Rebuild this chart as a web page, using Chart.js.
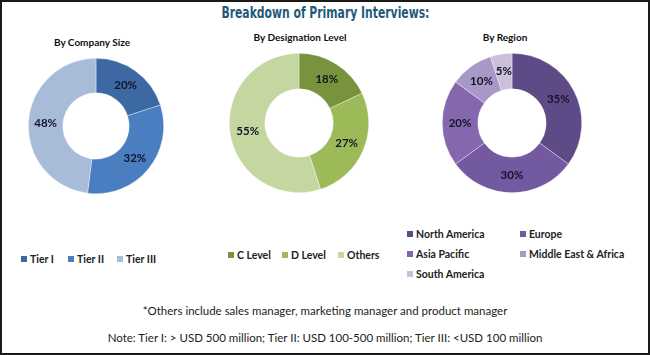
<!DOCTYPE html>
<html>
<head>
<meta charset="utf-8">
<script src="https://cdn.jsdelivr.net/npm/chart.js@4.4.0/dist/chart.umd.min.js"></script>
<style>
  html, body { margin: 0; padding: 0; background: #fff; }
  #frame { position: relative; width: 650px; height: 355px; box-sizing: border-box; border: 2px solid #1a1a1a; overflow: hidden; background: #fff; }
  .abs { position: absolute; white-space: nowrap; }
  #titlewrap { left: 0; width: 646px; top: 1px; text-align: center; }
  #title { display: inline-block; font-family: "Liberation Sans Narrow", "DejaVu Sans Condensed", sans-serif; font-weight: bold; font-size: 16px; color: #1f5a7a; transform-origin: center; }
  .sub { font-family: Lato, "Open Sans", sans-serif; font-weight: bold; font-size: 10px; color: #111; transform: translateX(-50%); }
  .leg { font-family: Lato, "Open Sans", sans-serif; font-weight: bold; font-size: 10.5px; color: #222; line-height: 12px; }
  .leg span.sq { display: inline-block; width: 6px; height: 6px; margin-right: 3px; vertical-align: 1px; }
  .note { left: 0; width: 646px; text-align: center; font-family: Lato, "Open Sans", sans-serif; font-size: 11.5px; color: #222; }
  canvas { position: absolute; }
</style>
</head>
<body>
<div id="frame">
  <div id="titlewrap" class="abs"><span id="title">Breakdown of Primary Interviews:</span></div>
  <div class="abs sub" style="left:90px; top:34px;">By Company Size</div>
  <div class="abs sub" style="left:298px; top:29px;">By Designation Level</div>
  <div class="abs sub" style="left:503px; top:29px;">By Region</div>
  <canvas id="c1" width="136" height="136" style="left:26px; top:56px;"></canvas>
  <canvas id="c2" width="140" height="140" style="left:227px; top:51px;"></canvas>
  <canvas id="c3" width="140" height="140" style="left:440px; top:51px;"></canvas>
  <div id="legends"></div>
  <div class="abs note" style="top:302px;">*Others include sales manager, marketing manager and product manager</div>
  <div class="abs note" style="top:329px;">Note: Tier I: &gt; USD 500 million; Tier II: USD 100-500 million; Tier III: &lt;USD 100 million</div>
</div>
<script>
// ---- Data ----
const sizeLabels = ["Tier I", "Tier II", "Tier III"];
const sizeValues = [20, 32, 48];
const sizeColors = ["#3d69a2", "#4a7ec0", "#a8bbd9"];

const desigLabels = ["C Level", "D Level", "Others"];
const desigValues = [18, 27, 55];
const desigColors = ["#77933c", "#9bbb59", "#c4d7a0"];

const regionLabels = ["North America", "Europe", "Asia Pacific", "Middle East & Africa", "South America"];
const regionValues = [35, 30, 20, 10, 5];
const regionColors = ["#5e4a87", "#7359a0", "#8567ad", "#a898c6", "#cbc0dc"];

// ---- Title width fit ----
(function () {
  const t = document.getElementById('title');
  const w = t.getBoundingClientRect().width;
  if (w > 0) t.style.transform = 'scaleX(' + (208 / w) + ')';
})();

// ---- Percent labels plugin ----
const pctLabels = {
  id: 'pctLabels',
  afterDatasetsDraw(chart) {
    const ctx = chart.ctx;
    const meta = chart.getDatasetMeta(0);
    const data = chart.data.datasets[0].data;
    ctx.save();
    ctx.font = "bold 11.5px Lato, 'Open Sans', sans-serif";
    ctx.fillStyle = "#141428";
    ctx.textAlign = "center";
    ctx.textBaseline = "middle";
    meta.data.forEach((arc, i) => {
      const p = arc.tooltipPosition();
      ctx.fillText(data[i] + "%", p.x, p.y);
    });
    ctx.restore();
  }
};

function donut(id, labels, values, colors) {
  new Chart(document.getElementById(id), {
    type: 'doughnut',
    data: { labels: labels, datasets: [{ data: values, backgroundColor: colors, borderColor: "rgba(255,255,255,0.6)", borderWidth: 0.6 }] },
    options: {
      responsive: false,
      animation: false,
      cutout: '49%',
      rotation: 0,
      layout: { padding: 0 },
      plugins: { legend: { display: false }, tooltip: { enabled: false } }
    },
    plugins: [pctLabels]
  });
}
donut('c1', sizeLabels, sizeValues, sizeColors);
donut('c2', desigLabels, desigValues, desigColors);
donut('c3', regionLabels, regionValues, regionColors);

// ---- Legends ----
function legendItem(label, color, left, top) {
  const d = document.createElement('div');
  d.className = 'abs leg';
  d.style.left = left + 'px';
  d.style.top = top + 'px';
  d.innerHTML = '<span class="sq" style="background:' + color + '"></span>' + label;
  document.getElementById('legends').appendChild(d);
}
const sizeLegX = [19, 66, 115];
sizeLabels.forEach((l, i) => legendItem(l, sizeColors[i], sizeLegX[i], 251));
const desigLegX = [226, 280, 336];
desigLabels.forEach((l, i) => legendItem(l, desigColors[i], desigLegX[i], 247));
const regionLegPos = [[405, 226], [518, 226], [405, 246], [518, 246], [405, 266]];
regionLabels.forEach((l, i) => legendItem(l, regionColors[i], regionLegPos[i][0], regionLegPos[i][1]));
</script>
</body>
</html>
